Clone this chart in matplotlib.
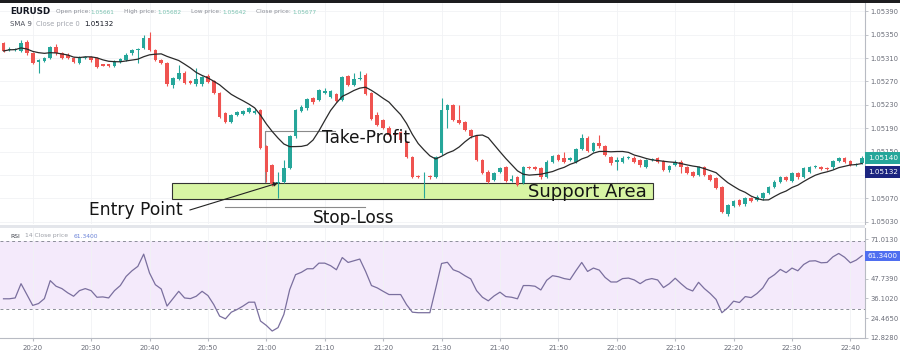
import numpy as np
import pandas as pd
import matplotlib
matplotlib.use("Agg")
import matplotlib.pyplot as plt
from matplotlib.patches import Rectangle

# ---------------- data ----------------
symbol = "EURUSD"
start_time = "20:15"

open_ = [
    1.05335, 1.05324, 1.05324, 1.05322, 1.05338, 1.05318, 1.05304, 1.05305, 1.05310, 1.05329,
    1.05318, 1.05316, 1.05310, 1.05302, 1.05310, 1.05312, 1.05310, 1.05299, 1.05299, 1.05297,
    1.05303, 1.05307, 1.05318, 1.05324, 1.05327, 1.05344, 1.05324, 1.05307, 1.05301, 1.05264,
    1.05275, 1.05285, 1.05270, 1.05265, 1.05265, 1.05280, 1.05270, 1.05250, 1.05216, 1.05201,
    1.05213, 1.05214, 1.05218, 1.05216, 1.05221, 1.05159, 1.05127, 1.05096, 1.05099, 1.05122,
    1.05176, 1.05220, 1.05224, 1.05241, 1.05238, 1.05251, 1.05244, 1.05248, 1.05238, 1.05279,
    1.05264, 1.05275, 1.05281, 1.05250, 1.05213, 1.05204, 1.05191, 1.05181, 1.05184, 1.05167,
    1.05141, 1.05108, 1.05106, 1.05108, 1.05107, 1.05147, 1.05221, 1.05229, 1.05204, 1.05200,
    1.05187, 1.05176, 1.05136, 1.05116, 1.05102, 1.05116, 1.05123, 1.05100, 1.05107, 1.05096,
    1.05124, 1.05123, 1.05122, 1.05107, 1.05133, 1.05144, 1.05139, 1.05136, 1.05133, 1.05155,
    1.05174, 1.05151, 1.05164, 1.05159, 1.05141, 1.05133, 1.05133, 1.05140, 1.05140, 1.05136,
    1.05124, 1.05136, 1.05139, 1.05134, 1.05118, 1.05127, 1.05133, 1.05123, 1.05115, 1.05110,
    1.05123, 1.05110, 1.05105, 1.05090, 1.05043, 1.05058, 1.05067, 1.05060, 1.05070, 1.05067,
    1.05070, 1.05080, 1.05090, 1.05098, 1.05107, 1.05100, 1.05113, 1.05107, 1.05116, 1.05124,
    1.05124, 1.05122, 1.05123, 1.05134, 1.05139, 1.05134, 1.05127, 1.05131,
]
close = [
    1.05322, 1.05326, 1.05325, 1.05336, 1.05318, 1.05301, 1.05306, 1.05310, 1.05328, 1.05318,
    1.05310, 1.05310, 1.05303, 1.05311, 1.05312, 1.05306, 1.05295, 1.05297, 1.05296, 1.05304,
    1.05308, 1.05316, 1.05324, 1.05326, 1.05344, 1.05324, 1.05307, 1.05301, 1.05265, 1.05276,
    1.05285, 1.05268, 1.05267, 1.05275, 1.05278, 1.05269, 1.05250, 1.05210, 1.05201, 1.05213,
    1.05217, 1.05220, 1.05224, 1.05220, 1.05156, 1.05116, 1.05094, 1.05099, 1.05122, 1.05176,
    1.05221, 1.05227, 1.05240, 1.05234, 1.05255, 1.05254, 1.05254, 1.05237, 1.05278, 1.05264,
    1.05275, 1.05276, 1.05248, 1.05206, 1.05196, 1.05190, 1.05179, 1.05179, 1.05170, 1.05141,
    1.05107, 1.05107, 1.05107, 1.05106, 1.05141, 1.05221, 1.05229, 1.05204, 1.05199, 1.05187,
    1.05176, 1.05136, 1.05113, 1.05099, 1.05113, 1.05122, 1.05100, 1.05103, 1.05093, 1.05124,
    1.05122, 1.05120, 1.05106, 1.05133, 1.05143, 1.05136, 1.05132, 1.05139, 1.05155, 1.05174,
    1.05151, 1.05164, 1.05159, 1.05144, 1.05130, 1.05136, 1.05140, 1.05141, 1.05133, 1.05127,
    1.05136, 1.05137, 1.05133, 1.05119, 1.05126, 1.05133, 1.05123, 1.05113, 1.05109, 1.05123,
    1.05110, 1.05102, 1.05088, 1.05047, 1.05059, 1.05066, 1.05059, 1.05070, 1.05066, 1.05073,
    1.05079, 1.05090, 1.05099, 1.05107, 1.05102, 1.05113, 1.05106, 1.05122, 1.05124, 1.05125,
    1.05120, 1.05121, 1.05134, 1.05139, 1.05133, 1.05127, 1.05129, 1.05140,
]
high = [
    1.05338, 1.05328, 1.05327, 1.05341, 1.05340, 1.05320, 1.05308, 1.05312, 1.05331, 1.05334,
    1.05320, 1.05318, 1.05312, 1.05313, 1.05314, 1.05314, 1.05312, 1.05300, 1.05300, 1.05306,
    1.05310, 1.05318, 1.05326, 1.05327, 1.05349, 1.05355, 1.05326, 1.05309, 1.05303, 1.05278,
    1.05298, 1.05287, 1.05272, 1.05293, 1.05280, 1.05282, 1.05272, 1.05252, 1.05218, 1.05215,
    1.05219, 1.05222, 1.05226, 1.05225, 1.05223, 1.05161, 1.05129, 1.05116, 1.05136, 1.05178,
    1.05223, 1.05229, 1.05242, 1.05243, 1.05257, 1.05258, 1.05256, 1.05250, 1.05280, 1.05281,
    1.05285, 1.05287, 1.05285, 1.05252, 1.05218, 1.05206, 1.05193, 1.05183, 1.05186, 1.05169,
    1.05143, 1.05110, 1.05116, 1.05110, 1.05143, 1.05241, 1.05231, 1.05231, 1.05230, 1.05202,
    1.05189, 1.05178, 1.05138, 1.05118, 1.05115, 1.05124, 1.05125, 1.05110, 1.05109, 1.05126,
    1.05126, 1.05125, 1.05124, 1.05135, 1.05145, 1.05146, 1.05150, 1.05141, 1.05157, 1.05181,
    1.05176, 1.05166, 1.05179, 1.05161, 1.05143, 1.05141, 1.05142, 1.05143, 1.05142, 1.05138,
    1.05138, 1.05139, 1.05141, 1.05136, 1.05128, 1.05135, 1.05135, 1.05125, 1.05117, 1.05125,
    1.05125, 1.05112, 1.05107, 1.05092, 1.05061, 1.05068, 1.05069, 1.05072, 1.05072, 1.05076,
    1.05081, 1.05092, 1.05101, 1.05109, 1.05109, 1.05115, 1.05115, 1.05124, 1.05126, 1.05127,
    1.05126, 1.05124, 1.05136, 1.05141, 1.05141, 1.05136, 1.05131, 1.05142,
]
low = [
    1.05320, 1.05322, 1.05322, 1.05320, 1.05316, 1.05299, 1.05284, 1.05303, 1.05308, 1.05316,
    1.05308, 1.05308, 1.05301, 1.05300, 1.05308, 1.05304, 1.05293, 1.05296, 1.05294, 1.05295,
    1.05301, 1.05305, 1.05316, 1.05302, 1.05325, 1.05322, 1.05305, 1.05299, 1.05263, 1.05259,
    1.05273, 1.05266, 1.05265, 1.05263, 1.05263, 1.05267, 1.05248, 1.05208, 1.05199, 1.05199,
    1.05211, 1.05212, 1.05216, 1.05214, 1.05154, 1.05099, 1.05092, 1.05071, 1.05097, 1.05120,
    1.05174, 1.05218, 1.05222, 1.05232, 1.05236, 1.05249, 1.05242, 1.05235, 1.05236, 1.05262,
    1.05262, 1.05273, 1.05246, 1.05204, 1.05194, 1.05188, 1.05177, 1.05177, 1.05168, 1.05139,
    1.05105, 1.05105, 1.05070, 1.05104, 1.05105, 1.05145, 1.05190, 1.05202, 1.05197, 1.05185,
    1.05174, 1.05134, 1.05111, 1.05097, 1.05100, 1.05114, 1.05098, 1.05098, 1.05091, 1.05094,
    1.05120, 1.05118, 1.05104, 1.05105, 1.05131, 1.05134, 1.05130, 1.05134, 1.05131, 1.05153,
    1.05149, 1.05149, 1.05157, 1.05142, 1.05128, 1.05119, 1.05131, 1.05138, 1.05131, 1.05124,
    1.05122, 1.05134, 1.05131, 1.05117, 1.05116, 1.05125, 1.05113, 1.05111, 1.05107, 1.05108,
    1.05108, 1.05100, 1.05086, 1.05045, 1.05040, 1.05056, 1.05057, 1.05058, 1.05064, 1.05065,
    1.05068, 1.05078, 1.05088, 1.05096, 1.05100, 1.05098, 1.05104, 1.05105, 1.05114, 1.05122,
    1.05118, 1.05119, 1.05121, 1.05132, 1.05131, 1.05125, 1.05125, 1.05129,
]
rsi = [
    35.9, 35.9, 36.4, 44.8, 38.4, 32.0, 33.1, 36.0, 46.6, 43.3,
    41.9, 39.4, 37.4, 40.7, 41.9, 40.7, 36.8, 37.0, 36.4, 40.7,
    43.7, 49.1, 52.4, 55.0, 62.2, 51.1, 44.2, 41.7, 31.6, 35.9,
    40.3, 36.4, 36.0, 37.4, 40.3, 37.8, 32.5, 25.7, 24.1, 28.0,
    29.6, 31.6, 33.9, 33.9, 22.8, 20.2, 16.9, 18.9, 26.7, 41.3,
    50.1, 51.5, 53.6, 53.6, 56.9, 56.9, 55.4, 53.0, 60.2, 57.3,
    58.3, 59.3, 52.0, 43.7, 42.3, 40.3, 38.4, 38.4, 38.4, 32.5,
    28.0, 27.7, 27.7, 27.7, 42.0, 56.7, 57.4, 53.0, 51.7, 49.5,
    47.6, 40.7, 36.8, 34.7, 37.6, 39.8, 37.2, 36.8, 35.9, 43.7,
    43.7, 43.3, 41.1, 46.8, 49.5, 48.9, 47.8, 47.2, 52.4, 57.3,
    52.0, 54.0, 52.8, 48.5, 45.8, 45.8, 47.8, 48.1, 47.0, 44.8,
    47.0, 47.8, 47.0, 42.5, 44.8, 48.0, 44.8, 41.9, 40.5, 45.6,
    41.9, 39.0, 35.5, 27.7, 30.6, 34.5, 33.7, 37.2, 36.6, 39.0,
    42.3, 47.8, 50.1, 53.2, 51.3, 54.0, 52.4, 56.1, 58.1, 58.3,
    57.1, 57.3, 60.6, 62.6, 60.4, 57.1, 58.7, 61.3,
]
price_ticks = [1.05030, 1.05070, 1.05110, 1.05150, 1.05190, 1.05230,
               1.05270, 1.05310, 1.05350, 1.05390]
rsi_ticks = [12.8280, 24.4650, 36.1020, 47.7390, 59.3760, 71.0130]
last_close = 1.05140
sma_last = 1.05132
rsi_last = 61.3400
header_values = {"Open price:": "1.05661", "High price:": "1.05682",
                 "Low price:": "1.05642", "Close price:": "1.05677"}
support_low, support_high = 1.05069, 1.05097

# ---------------- figure ----------------
W, H = 900, 356
fig = plt.figure(figsize=(W / 100, H / 100), dpi=100)
plt.rcParams['font.family'] = ['DejaVu Sans']

ax = fig.add_axes([0, 1 - 224 / H, 865 / W, 221 / H])
ax2 = fig.add_axes([0, 1 - 338 / H, 865 / W, 110 / H], sharex=ax)

o = np.array(open_); c = np.array(close); h = np.array(high); l = np.array(low)
n = len(o)
x = np.arange(n)
times = pd.date_range("2023-01-01 " + start_time, periods=n, freq="min")

GREEN, RED = "#26a69a", "#ef5350"
up = c >= o
cols = np.where(up, GREEN, RED)

ax.vlines(x, l, h, colors=cols, lw=0.8, zorder=3)
ax.bar(x, np.maximum(np.abs(c - o), 1.2e-5), bottom=np.minimum(o, c), width=0.62,
       color=cols, linewidth=0, zorder=4)
sma = pd.Series(c).rolling(9, min_periods=1).mean()
ax.plot(x, sma, color="#2a2a2a", lw=0.9, zorder=5)

ax.set_xlim(-0.6, 147.5)
ax.set_ylim(1.050264, 1.05404)

# support area box
ax.add_patch(Rectangle((28.85, support_low), 111.2 - 28.85, support_high - support_low,
                       facecolor="#d8f5a4", edgecolor="#333333", lw=0.8, zorder=2))
ax.text(89.8, 1.050817, "Support Area", fontsize=13, color="#151515", va="center",
        ha="left", zorder=6)

# take-profit bracket
ax.plot([44.8, 44.8, 56.8], [1.050982, 1.051854, 1.051854], color="#8a8a8a", lw=0.8, zorder=2)
ax.text(54.5, 1.051734, "Take-Profit", fontsize=12.2, color="#151515", va="center",
        ha="left", zorder=6)
# stop-loss line
ax.plot([37.9, 61.9], [1.050555, 1.050555], color="#8a8a8a", lw=0.8, zorder=2)
ax.text(53.0, 1.050372, "Stop-Loss", fontsize=12.2, color="#151515", va="center",
        ha="left", zorder=6, clip_on=False)
# entry point arrow
ax.annotate("", xy=(47.0, 1.050965), xytext=(31.9, 1.050503),
            arrowprops=dict(arrowstyle="-|>", color="#222222", lw=0.8,
                            mutation_scale=6, shrinkA=0, shrinkB=0), zorder=6)
ax.text(30.7, 1.050503, "Entry Point", fontsize=12.3, color="#151515", va="center",
        ha="right", zorder=6)

# ---------------- RSI ----------------
ax2.axhspan(30, 70, color="#f4eafb", zorder=0, lw=0)
ax2.axhline(70, color="#8c8f99", lw=0.7, ls=(0, (3, 3)), zorder=1)
ax2.axhline(30, color="#8c8f99", lw=0.7, ls=(0, (3, 3)), zorder=1)
ax2.plot(x, rsi, color="#7a6f9e", lw=0.9, zorder=3)
ax2.set_ylim(12.8, 77.6)

# ---------------- axes styling ----------------
tick_idx = [i for i, t in enumerate(times) if t.minute % 10 == 0]
tick_lab = [times[i].strftime("%H:%M") for i in tick_idx]
AXC = "#b8bbc3"
LABC = "#6a6d78"
for a in (ax, ax2):
    for s in ("top", "left", "bottom"):
        a.spines[s].set_visible(False)
    a.spines["right"].set_color(AXC)
    a.spines["right"].set_linewidth(0.8)
    a.yaxis.tick_right()
    a.tick_params(axis="y", labelsize=4.9, colors=AXC, labelcolor=LABC, length=2.5,
                  width=0.6, pad=1.5)
    a.set_xticks(tick_idx)
    a.grid(True, color="#f1f2f5", lw=0.6, zorder=0)
    a.set_axisbelow(True)
ax2.spines["bottom"].set_visible(True)
ax2.spines["bottom"].set_color(AXC)
ax2.spines["bottom"].set_linewidth(0.8)
ax.tick_params(axis="x", length=0, labelbottom=False)
ax2.set_xticklabels(tick_lab)
ax2.tick_params(axis="x", labelsize=5.0, colors=AXC, labelcolor=LABC, length=2, pad=3)

# labels hidden behind the last-value badges are left blank
hidden_price = {1.05110}
hidden_rsi = {59.3760}
ax.set_yticks(price_ticks)
ax.set_yticklabels(["" if v in hidden_price else f"{v:.5f}" for v in price_ticks])
ax2.set_yticks(rsi_ticks)
ax2.set_yticklabels(["" if v in hidden_rsi else f"{v:.4f}" for v in rsi_ticks])
ax2.grid(False)
ax2.grid(True, axis="x", color="#f1f2f5", lw=0.6)


# ---------------- badges (drawn in figure pixels) ----------------
def badge(yp, label, color, hgt=12):
    fig.patches.append(Rectangle((865 / W, (yp - hgt / 2) / H), 35 / W, hgt / H,
                                 transform=fig.transFigure, fc=color, ec="none", zorder=30))
    fig.text(868 / W, yp / H, label, fontsize=5.2, color="white", va="center",
             ha="left", zorder=31)


y_close = ax.transData.transform((0, last_close))[1]
badge(y_close, f"{last_close:.5f}", GREEN)
badge(y_close - 14.5, f"{sma_last:.5f}", "#1c2580")
y_rsi = ax2.transData.transform((0, rsi_last))[1]
badge(y_rsi, f"{rsi_last:.4f}", "#4f6ef0", hgt=10)


# ---------------- figure decorations ----------------
def px(xp, yp):
    return xp / W, 1 - yp / H


fig.patches.append(Rectangle((0, 1 - 3 / H), 1, 3 / H, transform=fig.transFigure,
                             fc="#1d1d1f", ec="none", zorder=20))
fig.patches.append(Rectangle((0, 1 - 227.5 / H), 865 / W, 3 / H, transform=fig.transFigure,
                             fc="#e4e6eb", ec="none", zorder=20))

fig.text(*px(10, 12), symbol, fontsize=6.3, fontweight="bold", color="#131722", va="center")
hx = [56, 124, 191, 256]
vx = [90, 157, 222, 292]
for (k, v), a_, b_ in zip(header_values.items(), hx, vx):
    fig.text(*px(a_, 12), k, fontsize=4.2, color="#8a8d96", va="center")
    fig.text(*px(b_, 12), v, fontsize=4.2, color="#7cc3b1", va="center")
fig.text(*px(10, 24), "SMA 9", fontsize=5.0, color="#50535e", va="center")
fig.text(*px(36, 24), "Close price 0", fontsize=4.9, color="#a3a6ae", va="center")
fig.text(*px(84, 24), f"{sma_last:.5f}", fontsize=5.1, color="#131722", va="center")

fig.text(*px(10, 236), "RSI", fontsize=4.3, color="#3d404a", va="center")
fig.text(*px(25, 236), "14 Close price", fontsize=4.3, color="#9a9da5", va="center")
fig.text(*px(74, 236), f"{rsi_last:.4f}", fontsize=4.3, color="#6a82d8", va="center")

fig.savefig("out.png", dpi=100)
